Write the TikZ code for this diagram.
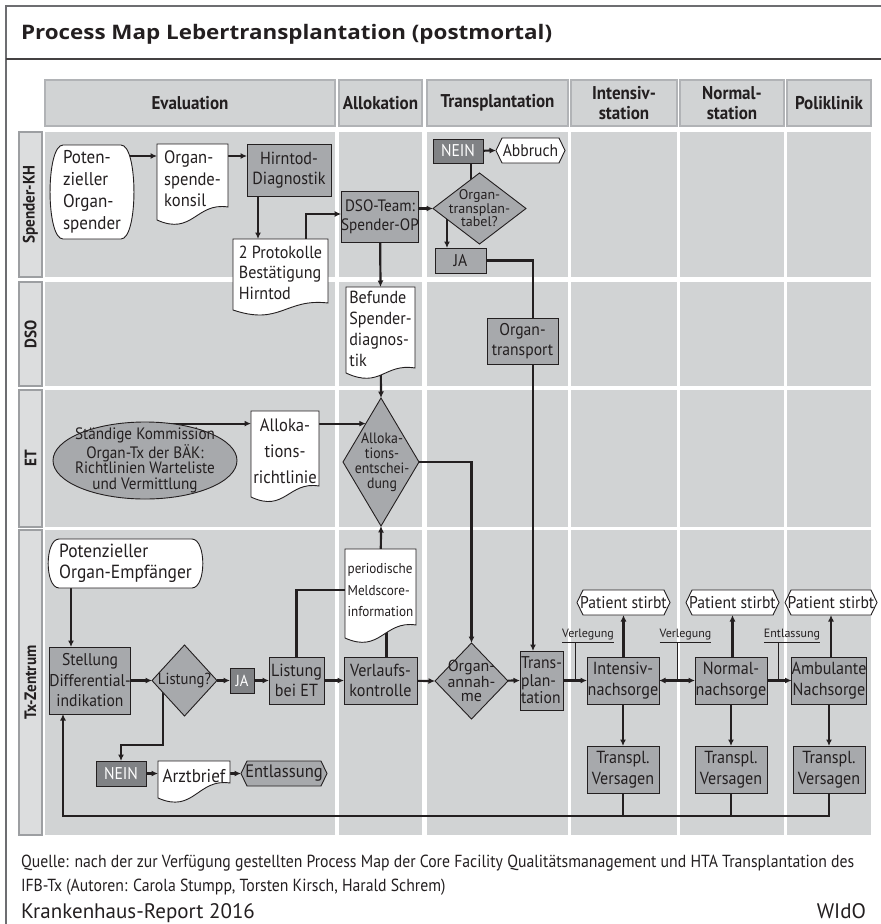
\documentclass[tikz,border=0pt]{standalone}
\usepackage{fontspec}
\setmainfont{PT Sans}[FakeStretch=0.92]
\newfontfamily\plainfont{PT Sans}
\newfontfamily\footfont{PT Sans}[FakeStretch=0.9]
\newfontfamily\titlefont{Open Sans}[FakeStretch=1.12]
\usetikzlibrary{shapes.geometric,arrows.meta,calc}
\pgfdeclarelayer{lanes}
\pgfdeclarelayer{conn}
\pgfdeclarelayer{docs}
\pgfsetlayers{lanes,conn,docs,main}
\definecolor{lanegray}{HTML}{D1D3D4}
\definecolor{hdrline}{HTML}{B1B3B6}
\definecolor{boxgray}{HTML}{A7A9AC}
\definecolor{darkgray}{HTML}{808285}
\definecolor{ink}{HTML}{231F20}
\definecolor{framegray}{HTML}{6D6E71}
\definecolor{lblfill}{HTML}{DCDDDE}
\definecolor{lblline}{HTML}{9D9FA2}
\newcommand\setfs[2]{\fontsize{#1}{#2}\selectfont}
\newcommand\docoutline[2]{%
  \filldraw[outl] (#1.north west) -- (#1.north east) -- ($(#1.south east)+(0,-#2/2)$)
   .. controls ($(#1.south west)!0.55!(#1.south east)+(0,-#2/2-5)$)
   and ($(#1.south west)!0.5!(#1.south east)+(0,#2/2+16)$)
   .. ($(#1.south west)+(0,#2/2)$) -- cycle;}
\newcommand\termoutline[2]{%
  \filldraw[outl] (#1.north west) -- (#1.north east)
   .. controls ($(#1.north east)+(4*#2/3,0)$) and ($(#1.south east)+(4*#2/3,0)$) .. (#1.south east)
   -- (#1.south west)
   .. controls ($(#1.south west)+(-4*#2/3,0)$) and ($(#1.north west)+(-4*#2/3,0)$) .. (#1.north west) -- cycle;}
\newcommand\hexoutline[3]{%
  \filldraw[outl, fill=#2] (#1.west) -- ($(#1.north west)+(#3,0)$) -- ($(#1.north east)+(-#3,0)$)
   -- (#1.east) -- ($(#1.south east)+(-#3,0)$) -- ($(#1.south west)+(#3,0)$) -- cycle;}
\tikzset{
  every node/.style={inner sep=0pt, outer sep=0pt, text=ink},
  wh/.style 2 args={minimum width=#1, minimum height=#2},
  box/.style={rectangle, draw=ink, line width=0.9pt, fill=boxgray, align=center},
  darkbox/.style={rectangle, draw=ink, line width=0.9pt, fill=darkgray, text=white},
  txt/.style={rectangle, align=center},
  outl/.style={draw=ink, line width=0.9pt, fill=white},
  dia/.style={diamond, draw=ink, line width=0.9pt, fill=boxgray, inner sep=0pt},
  hdr/.style={rectangle, draw=hdrline, line width=1.2pt, fill=lanegray, align=center, font=\bfseries\setfs{18.5}{20}},
  lanelbl/.style={rectangle, draw=lblline, line width=1.2pt, fill=lblfill, rotate=90, font=\bfseries\setfs{16.5}{18}},
  cline/.style={draw=ink, line width=2.2pt},
  arr/.style={cline, -{Latex[length=6.5pt,width=6pt]}},
  darr/.style={cline, {Latex[length=6.5pt,width=6pt]}-{Latex[length=6.5pt,width=6pt]}},
  tick/.style={draw=ink, line width=0.8pt},
  lbl/.style={font=\plainfont\setfs{12}{13}},
}
\begin{document}
\begin{tikzpicture}[x=1pt,y=-1pt]
\useasboundingbox (0,0) rectangle (881,924);
% frame and title
\draw[framegray, line width=2pt] (5.5,924) -- (5.5,5.5) -- (881,5.5);
\draw[ink!85, line width=1.3pt] (5.5,59) -- (881,59);
\node[anchor=base west, font=\titlefont\bfseries\setfs{20}{22}] (title) at (21,39) {Process Map Lebertransplantation (postmortal)};
% lanes
\begin{pgfonlayer}{lanes}
\foreach \xa/\xb in {45/335,339/422,427/568,571/677,680/784,787/871}{
  \foreach \ya/\yb in {132/277,282/386,390/527,530/835}{
    \fill[lanegray] (\xa,\ya) rectangle (\xb,\yb);
  }
}
\end{pgfonlayer}
% header
\node[hdr, wh={290}{46}] (hE) at (190,103) {Evaluation};
\node[hdr, wh={83}{46}] (hA) at (380.5,103) {Allokation};
\node[hdr, wh={141}{46}] (hT) at (497.5,103) {Transplantation};
\node[hdr, wh={106}{46}] (hI) at (624,103) {Intensiv-\\station};
\node[hdr, wh={104}{46}] (hN) at (732,103) {Normal-\\station};
\node[hdr, wh={84}{46}] (hP) at (829,103) {Poliklinik};
% lane labels
\node[lanelbl, wh={145}{23}] (lS) at (30.5,204.5) {Spender-KH};
\node[lanelbl, wh={104}{23}] (lD) at (30.5,334) {DSO};
\node[lanelbl, wh={137}{23}] (lE) at (30.5,458.5) {ET};
\node[lanelbl, wh={305}{23}] (lT) at (30.5,682.5) {Tx-Zentrum};
% Spender-KH
\node[txt, align=left, wh={56}{94}, font=\setfs{18.5}{22}] (pos) at (92,192) {Poten-\\zieller\\Organ-\\spender};
\node[txt, align=left, wh={71}{69.5}, font=\setfs{18}{21.5}] (konsil) at (192.5,178.75) {Organ-\\spende-\\konsil};
\node[box, wh={84}{52}, font=\setfs{17.5}{20}] (hirn) at (289,170) {Hirntod-\\Diagnostik};
\node[txt, align=left, wh={95}{67.5}, font=\setfs{17.5}{20.5}] (prot) at (280.5,272.75) {2 Protokolle\\Bestätigung\\Hirntod};
\node[box, wh={74}{51}, font=\setfs{16.5}{19}] (dso) at (380,216.5) {DSO-Team:\\Spender-OP};
\node[txt, align=left, wh={69}{83.5}, font=\setfs{17.5}{21}] (bef) at (380.5,328.75) {Befunde\\Spender-\\diagnos-\\tik};
\node[darkbox, wh={50}{24}, font=\setfs{17}{18}] (nein1) at (458,151) {NEIN};
\node[txt, wh={69}{25}, font=\setfs{17}{19}] (abbr) at (530.5,150.5) {Abbruch};
\node[dia, wh={93}{71}] (d1) at (479.5,208.5) {};
\node[txt, font=\plainfont\setfs{14}{13.5}] (d1t) at (d1) {Organ-\\transplan-\\tabel?};
\node[box, wh={51}{25}, font=\setfs{17}{18}] (ja1) at (460.5,260.5) {JA};
\node[box, wh={71}{46}, font=\setfs{17}{20}] (transp) at (522.5,341) {Organ-\\transport};
% ET
\node[ellipse, draw=ink, line width=0.9pt, fill=boxgray, wh={184}{77}] (ell) at (145,460.5) {};
\node[txt, font=\setfs{16.5}{15.5}] (ellt) at (ell) {Ständige Kommission\\Organ-Tx der BÄK:\\Richtlinien Warteliste\\und Vermittlung};
\node[txt, wh={68}{80.5}, font=\setfs{18}{26}] (richt) at (285,451.25) {Alloka-\\tions-\\richtlinie};
\node[dia, wh={76}{128}] (d2) at (381,462) {};
\node[txt, font=\setfs{15}{15}] (d2t) at ([xshift=1]d2) {Alloka-\\tions-\\entschei-\\dung};
% Tx-Zentrum
\node[txt, align=left, wh={127}{49}, font=\setfs{19}{21.5}] (potE) at (125.5,563.5) {Potenzieller\\Organ-Empfänger};
\node[box, wh={80}{67}, font=\setfs{17}{20.5}] (stell) at (90,680.5) {Stellung\\Differential-\\indikation};
\node[dia, wh={65}{71}] (d4) at (184.5,680.5) {};
\node[txt, font=\setfs{16}{17}] (d4t) at (d4) {Listung?};
\node[darkbox, wh={24}{25}, font=\setfs{16}{18}] (jaT) at (242,680.5) {JA};
\node[box, wh={55}{47}, font=\setfs{17.5}{20}] (listET) at (296.5,680.5) {Listung\\bei ET};
\node[txt, align=left, wh={71}{82.5}, font=\setfs{14.3}{21.5}] (meld) at (380.5,590.25) {periodische\\Meldscore-\\information};
\node[box, wh={73}{47}, font=\setfs{17.5}{20}] (verl) at (380.5,680.5) {Verlaufs-\\kontrolle};
\node[darkbox, wh={50}{25}, font=\setfs{17}{19}] (neinT) at (121,773.5) {NEIN};
\node[txt, wh={72}{29.5}, font=\setfs{18.5}{20}] (arzt) at (194,775.75) {Arztbrief};
\node[txt, wh={86}{25}, font=\setfs{18}{20}] (entl) at (284,773.5) {Entlassung};
\node[dia, wh={73}{76}] (d3) at (471.5,681) {};
\node[txt, font=\plainfont\setfs{16}{14.5}] (d3t) at (d3) {Organ-\\annah-\\me};
\node[box, align=left, wh={43}{59}, font=\setfs{17}{17.5}] (transpl) at (541.5,680.5) {Trans-\\plan-\\tation};
\node[box, wh={72}{47}, font=\setfs{17.5}{20.5}] (intens) at (623,680.5) {Intensiv-\\nachsorge};
\node[box, wh={72}{47}, font=\setfs{17.5}{20.5}] (norm) at (731,680.5) {Normal-\\nachsorge};
\node[box, wh={72}{47}, font=\setfs{17.5}{20.5}] (amb) at (829,680.5) {Ambulante\\Nachsorge};
\node[txt, wh={93}{25}, font=\setfs{17}{19}] (ps1) at (623.5,602.5) {Patient stirbt};
\node[txt, wh={93}{25}, font=\setfs{17}{19}] (ps2) at (732.5,602.5) {Patient stirbt};
\node[txt, wh={92}{25}, font=\setfs{17}{19}] (ps3) at (831,602.5) {Patient stirbt};
\node[box, wh={72}{47}, font=\setfs{17.5}{20.5}] (tv1) at (623,769.5) {Transpl.\\Versagen};
\node[box, wh={72}{47}, font=\setfs{17.5}{20.5}] (tv2) at (731,769.5) {Transpl.\\Versagen};
\node[box, wh={72}{47}, font=\setfs{17.5}{20.5}] (tv3) at (829,769.5) {Transpl.\\Versagen};
\node[lbl] (lv1) at (588,636) {\underline{Verlegung}};
\node[lbl] (lv2) at (685.5,636) {\underline{Verlegung}};
\node[lbl] (le) at (792,636) {\underline{Entlassung}};
% outlines
\begin{pgfonlayer}{docs}
\termoutline{pos}{13}
\termoutline{potE}{11}
\docoutline{konsil}{13}
\docoutline{prot}{7}
\docoutline{bef}{5}
\docoutline{richt}{11}
\docoutline{meld}{13}
\docoutline{arzt}{15}
\hexoutline{abbr}{white}{6}
\hexoutline{entl}{boxgray}{6}
\hexoutline{ps1}{white}{6}
\hexoutline{ps2}{white}{6}
\hexoutline{ps3}{white}{6}
\end{pgfonlayer}
% connectors
\coordinate (yA) at (0,156);
\coordinate (xHP) at (258,0);
\coordinate (xPD) at (306,0);
\coordinate (yPD) at (0,214);
\coordinate (xJA) at (447,0);
\coordinate (xT) at (533,0);
\coordinate (xE) at (71,0);
\coordinate (xN) at (163,0);
\coordinate (yN) at (0,745);
\coordinate (yB) at (0,816);
\coordinate (xB) at (63,0);
\coordinate (d2A) at ($(d2.west)!0.6!(d2.north)$);
\coordinate (t1) at ($(lv1.south west)+(13,0)$);
\coordinate (t2) at ($(lv2.south west)+(18,0)$);
\coordinate (t3) at ($(le.south west)+(14,0)$);
\begin{pgfonlayer}{conn}
\draw[arr] (pos |- yA) -- (konsil.west |- yA);
\draw[arr] (konsil |- yA) -- (hirn.west |- yA);
\draw[arr] (xHP |- hirn) -- (xHP |- prot.north);
\draw[arr] (xPD |- prot) |- (dso.west |- yPD);
\draw[arr] (dso) -- (bef.north);
\draw[arr] (dso |- d1) -- (d1.west);
\draw[cline] ($(nein1.south)+(13,0)$) -- ($(d1.center)+(-8.5,0)$);
\draw[arr] (nein1) -- (abbr.west);
\draw[arr] (xJA |- d1) -- (xJA |- ja1.north);
\draw[arr] (ja1) -| (xT |- transpl.north);
\draw[arr] (bef) -- (d2.north);
\draw[arr] (ell |- d2A) -- (richt.west |- d2A);
\draw[arr] (richt |- d2A) -- (d2A);
\draw[arr] (d2.east) -| (d3.north);
\draw[arr] (meld) -- (d2.south);
\draw[cline] ($(verl.north)+(6,0)$) -- ($(meld.center)+(6,0)$);
\draw[cline] (listET) |- (meld);
\draw[arr] (xE |- potE) -- (xE |- stell.north);
\draw[arr] (stell) -- (d4.west);
\draw[arr] (d4) -- (jaT.west);
\draw[arr] (jaT) -- (listET.west);
\draw[arr] (listET) -- (verl.west);
\draw[arr] (verl) -- (d3.west);
\draw[arr] (d3) -- (transpl.west);
\draw[arr] (transpl) -- (intens.west);
\draw[darr] (intens.east) -- (norm.west);
\draw[arr] (norm) -- (amb.west);
\foreach \a/\b/\c in {intens/ps1/tv1, norm/ps2/tv2, amb/ps3/tv3}{
  \draw[arr] (\b |- \a) -- (\b.south);
  \draw[arr] (\a) -- (\c.north);
}
\draw[arr] (tv3) |- (xB |- yB) -- (xB |- stell.south);
\draw[cline] (tv1) -- (tv1 |- yB);
\draw[cline] (tv2) -- (tv2 |- yB);
\draw[arr] (xN |- d4) -- (xN |- yN) -| (neinT.north);
\draw[arr] (neinT) -- (arzt.west |- neinT);
\draw[arr] (arzt |- entl) -- (entl.west);
\end{pgfonlayer}
\draw[tick] (t1) -- (t1 |- intens);
\draw[tick] (t2) -- (t2 |- intens);
\draw[tick] (t3) -- (t3 |- intens);
% footer
\node[anchor=base west, font=\footfont\setfs{17.5}{18}] (src1) at (21,867) {Quelle: nach der zur Verfügung gestellten Process Map der Core Facility Qualitätsmanagement und HTA Transplantation des};
\node[anchor=base west, font=\footfont\setfs{17.5}{18}] (src2) at (21,891) {IFB-Tx (Autoren: Carola Stumpp, Torsten Kirsch, Harald Schrem)};
\node[anchor=base west, font=\plainfont\setfs{21}{22}] (kr) at (21,918) {Krankenhaus-Report 2016};
\node[anchor=base east, font=\plainfont\setfs{21}{22}] (wido) at (866,918) {WIdO};
\end{tikzpicture}
\end{document}
